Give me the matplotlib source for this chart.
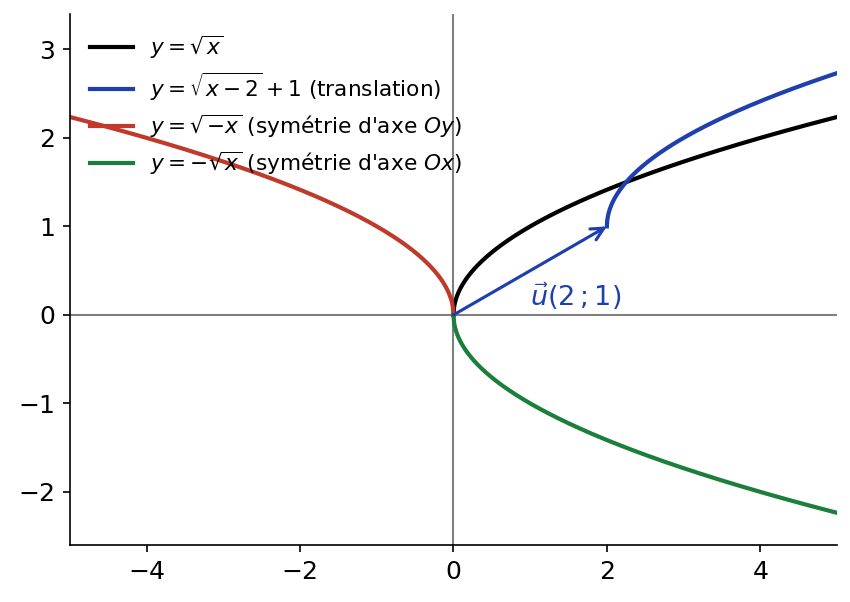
import numpy as np
import matplotlib
matplotlib.use("Agg")
import matplotlib.pyplot as plt

# domaines des courbes
x_pos = np.linspace(0, 5, 600)
x_neg = np.linspace(-5, 0, 600)
x_trans = np.linspace(2, 5, 600)

# vecteur de translation
u_vec = (2, 1)

colors = {
    'base': '#000000',
    'trans': '#1f3fae',
    'oy': '#c0392b',
    'ox': '#1b7f3b',
}

fig = plt.figure(figsize=(851 / 150, 602 / 150), dpi=150)
ax = fig.add_axes([0.0823, 0.0947, 0.9012, 0.882])

ax.axhline(0, color='gray', lw=1, zorder=1)
ax.axvline(0, color='gray', lw=1, zorder=1)

ax.plot(x_pos, np.sqrt(x_pos), color=colors['base'], lw=2, label=r'$y=\sqrt{x}$')
ax.plot(x_trans, np.sqrt(x_trans - u_vec[0]) + u_vec[1], color=colors['trans'], lw=2,
        label=r'$y=\sqrt{x-2}+1$ (translation)')
ax.plot(x_neg, np.sqrt(-x_neg), color=colors['oy'], lw=2,
        label=r"$y=\sqrt{-x}$ (symétrie d'axe $Oy$)")
ax.plot(x_pos, -np.sqrt(x_pos), color=colors['ox'], lw=2,
        label=r"$y=-\sqrt{x}$ (symétrie d'axe $Ox$)")

# flèche du vecteur u
ax.annotate('', xy=u_vec, xytext=(0, 0),
            arrowprops=dict(arrowstyle='->', color=colors['trans'], lw=1.5,
                            shrinkA=0, shrinkB=0, mutation_scale=15))
ax.text(1.0, 0.1, r'$\vec{u}(2\,;1)$', color=colors['trans'], fontsize=13)

ax.set_xlim(-5, 5)
ax.set_ylim(-2.6, 3.4)
ax.set_xticks([-4, -2, 0, 2, 4])
ax.set_yticks([-2, -1, 0, 1, 2, 3])
ax.tick_params(labelsize=12)
ax.spines['top'].set_visible(False)
ax.spines['right'].set_visible(False)

ax.legend(loc='upper left', frameon=False, fontsize=10.4, labelspacing=0.45)

plt.savefig('out.png', dpi=150)
